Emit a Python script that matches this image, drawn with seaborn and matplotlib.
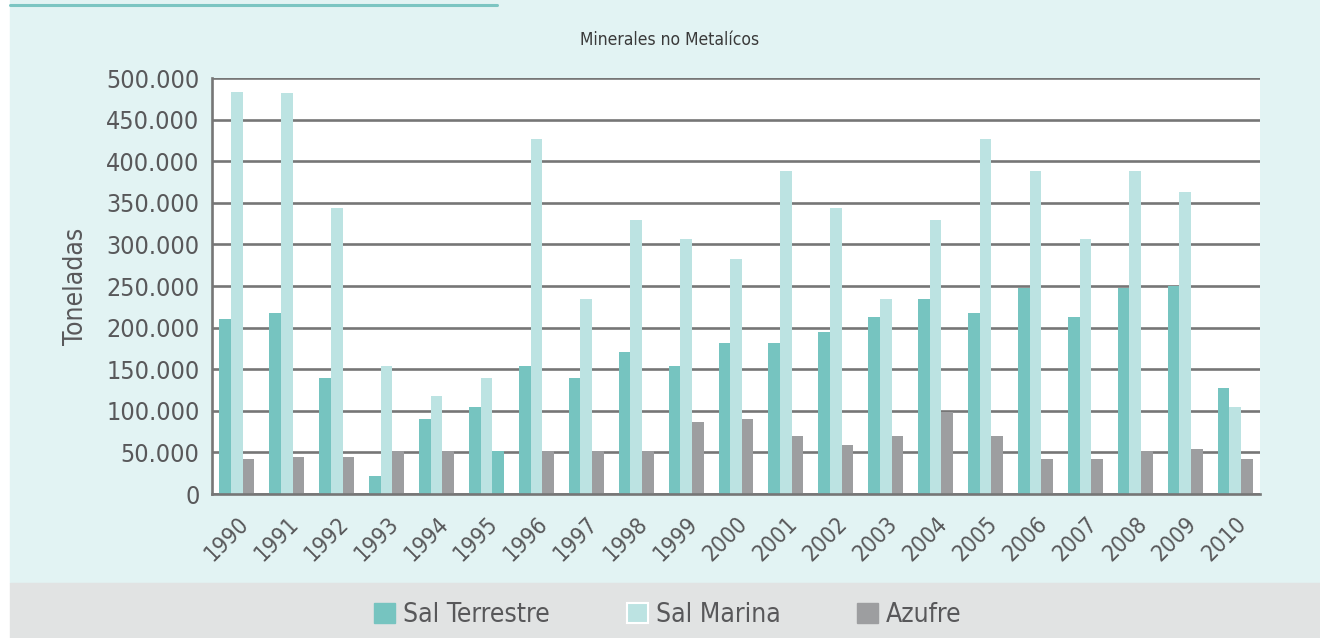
# Minerales no Metalícos - Gráfico de barras agrupadas

import matplotlib
matplotlib.use("Agg")
import matplotlib.pyplot as plt
from matplotlib.patches import Patch, Rectangle
from matplotlib.lines import Line2D
from matplotlib.ticker import FuncFormatter, MultipleLocator
import seaborn as sns
import pandas as pd

# Datos (toneladas)
anios = [str(a) for a in range(1990, 2011)]
sal_terrestre = [210000, 218000, 140000, 22000, 90000, 105000, 154000, 140000,
                 171000, 154000, 181000, 181000, 195000, 213000, 234000, 218000,
                 248000, 213000, 248000, 250000, 127000]
sal_marina = [483000, 482000, 344000, 154000, 118000, 140000, 427000, 234000,
              329000, 307000, 283000, 388000, 344000, 234000, 329000, 427000,
              388000, 307000, 388000, 363000, 105000]
azufre = [42000, 45000, 45000, 52000, 52000, 52000, 52000, 52000, 52000, 86000,
          90000, 70000, 59000, 70000, 98000, 70000, 42000, 42000, 52000, 54000,
          42000]
series = ["Sal Terrestre", "Sal Marina", "Azufre"]
colores = ["#76c4c0", "#bce3e2", "#9d9ea0"]

# Tabla larga para seaborn
df = pd.DataFrame({"Año": anios * 3,
                   "Serie": [series[0]] * 21 + [series[1]] * 21 + [series[2]] * 21,
                   "Toneladas": sal_terrestre + sal_marina + azufre})

sns.set_style("white")
plt.rcParams["font.family"] = ["DejaVu Sans"]
plt.rcParams["font.stretch"] = "condensed"
texto = "#58585a"

fig = plt.figure(figsize=(13.2, 6.38), dpi=100)
fig.patch.set_facecolor("white")

# Fondos del panel (cian arriba, gris abajo) y línea superior
fig.patches.append(Rectangle((10 / 1320, 55 / 638), 1310 / 1320, 583 / 638,
                             transform=fig.transFigure, color="#e2f3f3", zorder=-2))
fig.patches.append(Rectangle((10 / 1320, 0), 1310 / 1320, 55 / 638,
                             transform=fig.transFigure, color="#e1e3e3", zorder=-2))
fig.lines.append(Line2D([10 / 1320, 497 / 1320], [1 - 5 / 638, 1 - 5 / 638],
                        transform=fig.transFigure, color="#7cc5c2", lw=2.2, zorder=-1))

ax = fig.add_axes([212 / 1320, 1 - 494 / 638, 1048 / 1320, 416 / 638])
ax.set_facecolor("white")

sns.barplot(data=df, x="Año", y="Toneladas", hue="Serie", palette=colores,
            width=0.7, saturation=1, linewidth=0, ax=ax, legend=False)

# En el original la barra de Azufre de 1995 aparece en color Sal Terrestre
ax.containers[2][5].set_facecolor(colores[0])

# Ejes y cuadrícula
ax.set_ylim(0, 500000)
ax.set_xlim(-0.5, 20.5)
ax.yaxis.set_major_locator(MultipleLocator(50000))
ax.yaxis.set_major_formatter(FuncFormatter(lambda v, p: f"{int(v):,}".replace(",", ".")))
ax.grid(axis="y", color="#767676", lw=1.9, zorder=0)
ax.set_axisbelow(True)
for s in ["top", "right"]:
    ax.spines[s].set_visible(False)
for s in ["left", "bottom"]:
    ax.spines[s].set_color("#767676")
    ax.spines[s].set_linewidth(1.9)

ax.tick_params(axis="y", length=7, width=1.5, color="#767676", labelsize=18,
               labelcolor=texto, direction="out", pad=2)
ax.tick_params(axis="x", which="major", length=0, labelsize=16.5, labelcolor=texto, pad=13)
ax.set_xticks([i + 0.5 for i in range(21)], minor=True)
ax.tick_params(axis="x", which="minor", length=8, width=1.5, color="#767676",
               direction="inout")
plt.setp(ax.get_xticklabels(), rotation=45, ha="right", rotation_mode="anchor")

ax.set_xlabel("")
ax.set_ylabel("Toneladas", fontsize=19, color=texto, labelpad=12)

# Título
fig.text(670 / 1320, 1 - 40 / 638, "Minerales no Metalícos", ha="center",
         va="center", fontsize=12.5, color="#3a3a3a")

# Leyenda en la franja gris
handles = [Patch(facecolor=colores[0], edgecolor=colores[0]),
           Patch(facecolor=colores[1], edgecolor="white", lw=1.5),
           Patch(facecolor=colores[2], edgecolor=colores[2])]
fig.legend(handles, series, loc="center", bbox_to_anchor=(668 / 1320, 1 - 615 / 638),
           ncol=3, frameon=False, fontsize=19, labelcolor=texto,
           handlelength=0.8, handleheight=0.8, handletextpad=0.3,
           columnspacing=2.9)

fig.savefig("out.png", dpi=100, facecolor=fig.get_facecolor())
